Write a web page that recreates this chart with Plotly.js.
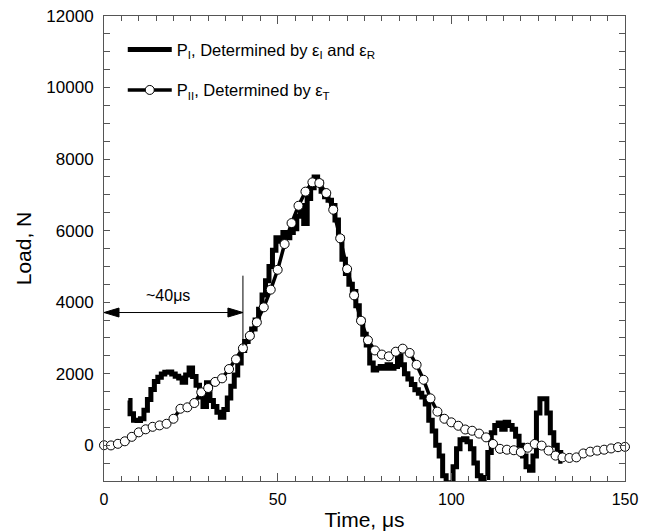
<!DOCTYPE html>
<html>
<head>
<meta charset="utf-8">
<script src="https://cdn.plot.ly/plotly-3.0.1.min.js"></script>
<style>html,body{margin:0;padding:0;background:#fff;}#chart{width:652px;height:531px;}</style>
</head>
<body>
<div id="chart"></div>
<script>
// P_I : determined by eps_I and eps_R (time in microseconds, load in N)
var timeI = [7,8,9,10,11,12,13,14,15,16,17,18,19,20,21,22,23,24,25,26,27,28,29,30,31,32,33,34,35,36,37,38,39,40,41,42,43,44,45,46,47,48,49,50,51,52,53,54,55,56,57,58,59,60,61,62,63,64,65,66,67,68,69,70,71,72,73,74,75,76,77,78,79,80,81,82,83,84,85,86,87,88,89,90,91,92,93,94,95,96,97,98,99,100,101,102,103,104,105,106,107,108,109,110,111,112,113,114,115,116,117,118,119,120,121,122,123,124,125,126,127,128,129,130,131,132];
var loadI = [1250,880,700,690,740,980,1280,1560,1780,1900,1990,2040,2050,1990,1930,1880,1760,1960,2160,1920,1680,1350,1080,1750,1250,1080,920,780,1000,1320,1650,1960,2300,2650,2900,3050,3250,3500,3800,4200,4600,5000,5450,5800,5700,5950,5800,5950,6050,6400,6700,6200,6900,7200,7500,7350,7100,6950,6850,6700,6300,5800,5200,4800,4500,4300,3900,3500,3100,2800,2300,2100,2150,2200,2150,2250,2150,2200,2500,2250,2000,1850,1700,1550,1450,1350,1150,700,400,0,-300,-850,-1050,-1050,-600,-100,150,180,100,-100,-500,-850,-1050,-900,-200,350,550,620,450,640,550,450,250,0,-300,-600,-700,-300,900,1300,1300,900,350,0,-200,-450];

// P_II : determined by eps_T
var timeII = [0,2,4,6,8,10,12,14,16,18,20,22,24,26,28,30,32,34,36,38,40,42,44,46,48,50,52,54,56,58,60,62,64,66,68,70,72,74,76,78,80,82,84,86,88,90,92,94,96,98,100,102,104,106,108,110,112,114,116,118,120,122,124,126,128,130,132,134,136,138,140,142,144,146,148,150];
var loadII = [0,-5,40,110,235,360,445,515,555,600,740,1020,1060,1180,1480,1600,1770,1870,2130,2400,2710,3060,3435,3855,4350,4905,5625,6210,6695,7090,7350,7330,7050,6585,5785,4925,4190,3480,2935,2650,2535,2485,2615,2700,2580,2250,1830,1310,940,740,640,545,440,405,325,220,35,-100,-125,-140,-190,-70,35,-10,-150,-290,-340,-355,-340,-230,-180,-150,-125,-90,-55,-45];

// tick labels
var xTicks = [0,50,100,150];
var yTicks = [0,2000,4000,6000,8000,10000,12000];

// annotation: ~40 us delay
var delayStart = 0, delayEnd = 40, delayLoad = 3710;
var markerLineTop = 4740, markerLineBottom = 2780;
var delayLabel = '~40\u03bcs', delayLabelT = 18.5, delayLabelLoad = 4200;

var FONT = 'Liberation Sans, Arial, Helvetica, sans-serif';
var AX = '#555';

var traces = [
  {
    x: timeI, y: loadI, type: 'scatter', mode: 'lines',
    name: 'P<sub>I</sub>, Determined by \u03b5<sub>I</sub> and \u03b5<sub>R</sub>',
    line: {color: '#000', width: 5, shape: 'hvh'},
    legendgroup: 'a'
  },
  {
    x: timeII, y: loadII, type: 'scatter', mode: 'lines+markers',
    name: 'P<sub>II</sub>, Determined by \u03b5<sub>T</sub>',
    line: {color: '#000', width: 3.5},
    marker: {symbol: 'circle', size: 9, color: '#fff', line: {color: '#000', width: 1}},
    cliponaxis: false,
    legendgroup: 'b'
  }
];

var layout = {
  width: 652, height: 531,
  margin: {l: 104, r: 27, t: 16, b: 50},
  paper_bgcolor: '#fff', plot_bgcolor: '#fff',
  font: {family: FONT, color: '#000'},
  showlegend: true,
  legend: {
    x: 0.036, y: 0.965, xanchor: 'left', yanchor: 'top',
    bgcolor: 'rgba(0,0,0,0)', font: {family: FONT, size: 16.5, color: '#000'},
    traceorder: 'grouped', tracegroupgap: 16, itemwidth: 44
  },
  xaxis: {
    range: [0, 150], tickvals: xTicks, ticktext: xTicks.map(String),
    ticks: 'inside', ticklen: 8, tickwidth: 1, tickcolor: AX,
    showline: true, linecolor: AX, linewidth: 1, mirror: 'ticks',
    showgrid: false, zeroline: false,
    minor: {dtick: 5, tick0: 0, ticks: 'inside', ticklen: 5, tickcolor: AX, showgrid: false},
    tickfont: {family: FONT, size: 16, color: '#000'},
    ticklabelstandoff: 4,
    title: {text: 'Time, \u03bcs', font: {family: FONT, size: 21, color: '#000'}, standoff: 6}
  },
  yaxis: {
    range: [-1000, 12000], tickvals: yTicks, ticktext: yTicks.map(String),
    ticks: 'inside', ticklen: 6, tickwidth: 1, tickcolor: AX,
    showline: true, linecolor: AX, linewidth: 1, mirror: 'ticks',
    showgrid: false, zeroline: false,
    minor: {dtick: 500, tick0: 0, ticks: 'inside', ticklen: 6, tickcolor: AX, showgrid: false},
    tickfont: {family: FONT, size: 17, color: '#000'},
    ticklabelstandoff: 6,
    title: {text: 'Load, N', font: {family: FONT, size: 21, color: '#000'}, standoff: 8}
  },
  shapes: [
    {type: 'line', xref: 'x', yref: 'y', x0: delayStart, x1: delayEnd, y0: delayLoad, y1: delayLoad,
     line: {color: '#000', width: 1}},
    {type: 'line', xref: 'x', yref: 'y', x0: delayEnd, x1: delayEnd, y0: markerLineBottom, y1: markerLineTop,
     line: {color: '#000', width: 1}},
    {type: 'path', xref: 'x', yref: 'y', xsizemode: 'pixel', ysizemode: 'pixel',
     xanchor: delayStart, yanchor: delayLoad, path: 'M0,0 L15,4.5 L15,-4.5 Z',
     fillcolor: '#000', line: {color: '#000', width: 1}},
    {type: 'path', xref: 'x', yref: 'y', xsizemode: 'pixel', ysizemode: 'pixel',
     xanchor: delayEnd, yanchor: delayLoad, path: 'M0,0 L-15,4.5 L-15,-4.5 Z',
     fillcolor: '#000', line: {color: '#000', width: 1}}
  ],
  annotations: [
    {xref: 'x', yref: 'y', x: delayLabelT, y: delayLabelLoad, text: delayLabel, showarrow: false,
     font: {family: FONT, size: 16, color: '#000'}}
  ]
};

Plotly.newPlot('chart', traces, layout, {staticPlot: true, displayModeBar: false});
</script>
</body>
</html>
